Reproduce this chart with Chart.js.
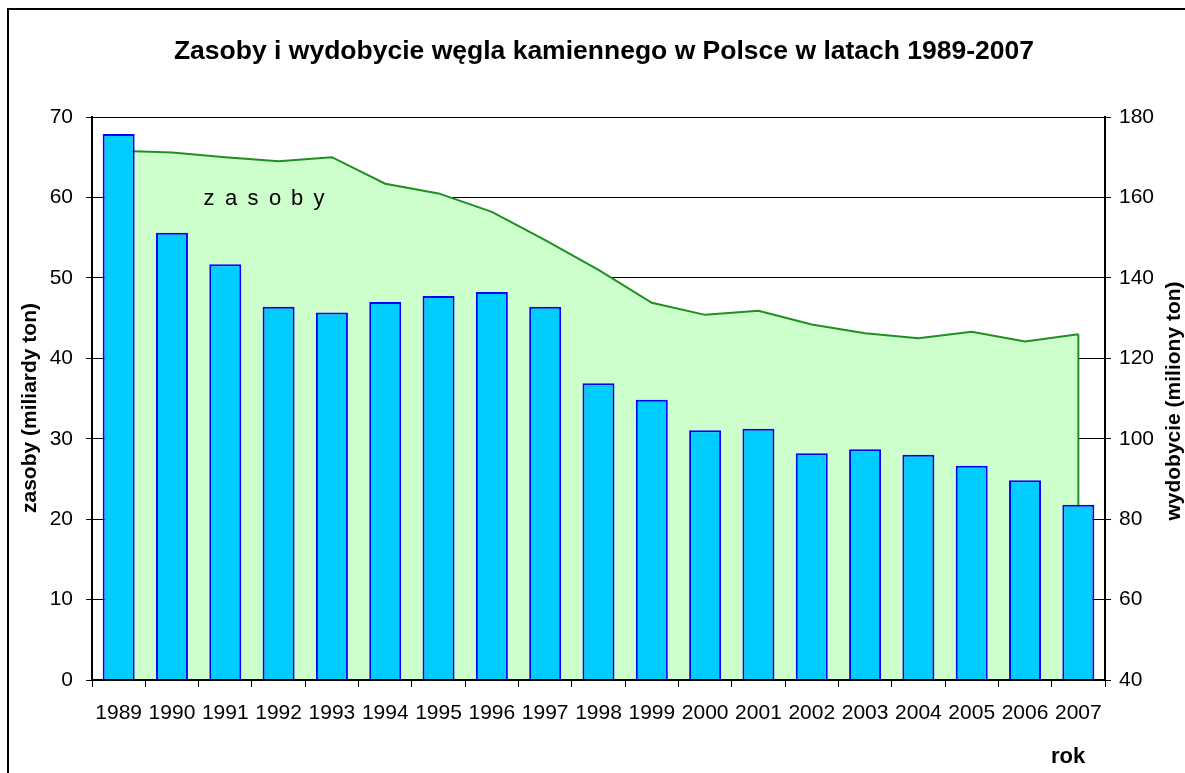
<!DOCTYPE html>
<html>
<head>
<meta charset="utf-8">
<script src="https://cdn.jsdelivr.net/npm/chart.js@4.4.1/dist/chart.umd.min.js"></script>
<style>
  body { margin: 0; background: #fff; }
  canvas { display: block; }
</style>
</head>
<body>
<canvas id="wykres" width="1185" height="773"></canvas>
<script>
// dane
const lata = ['1989','1990','1991','1992','1993','1994','1995','1996','1997','1998',
              '1999','2000','2001','2002','2003','2004','2005','2006','2007'];
// zasoby (miliardy ton) - lewa os
const zasoby = [65.8, 65.6, 65.0, 64.5, 65.0, 61.7, 60.5, 58.2, 54.7, 51.0,
                46.9, 45.4, 45.9, 44.2, 43.1, 42.5, 43.3, 42.1, 43.0];
// wydobycie (miliony ton) - prawa os
const wydobycie = [175.8, 151.2, 143.4, 132.8, 131.4, 134.0, 135.5, 136.5, 132.8, 113.8,
                   109.7, 102.1, 102.5, 96.4, 97.4, 96.0, 93.3, 89.7, 83.6];

const FONT = "'Liberation Sans', Arial, sans-serif";

// napisy, ramka i pionowa krawedz pola zasobow
const napisy = {
  id: 'napisy',
  afterDatasetDraw(chart, args) {
    if (args.index !== 0) return;
    const pts = args.meta.data;
    const last = pts[pts.length - 1];
    const ctx = chart.ctx;
    const y0 = chart.scales.y.getPixelForValue(0);
    ctx.save();
    ctx.strokeStyle = '#1f8f1f';
    ctx.lineWidth = 2;
    ctx.beginPath();
    ctx.moveTo(last.x, last.y);
    ctx.lineTo(last.x, y0);
    ctx.stroke();
    ctx.restore();
  },
  afterDraw(chart) {
    const ctx = chart.ctx;
    ctx.save();
    ctx.strokeStyle = '#000';
    ctx.lineWidth = 2;
    ctx.strokeRect(8, 9, 1200, 800);

    ctx.fillStyle = '#000';
    ctx.textAlign = 'center';
    ctx.textBaseline = 'alphabetic';
    ctx.font = 'bold 26.5px ' + FONT;
    ctx.fillText('Zasoby i wydobycie węgla kamiennego w Polsce w latach 1989-2007', 604, 59);

    ctx.font = 'bold 22px ' + FONT;
    ctx.fillText('rok', 1068, 763);

    ctx.font = 'bold 21px ' + FONT;
    ctx.save();
    ctx.translate(36, 408);
    ctx.rotate(-Math.PI / 2);
    ctx.fillText('zasoby (miliardy ton)', 0, 0);
    ctx.restore();
    ctx.save();
    ctx.translate(1180, 401);
    ctx.rotate(-Math.PI / 2);
    ctx.fillText('wydobycie (miliony ton)', 0, 0);
    ctx.restore();

    ctx.font = '22px ' + FONT;
    const litery = ['z', 'a', 's', 'o', 'b', 'y'];
    litery.forEach((l, i) => ctx.fillText(l, 209 + i * 22, 205));
    ctx.restore();
  }
};

new Chart(document.getElementById('wykres'), {
  data: {
    labels: lata,
    datasets: [
      {
        type: 'line',
        label: 'zasoby',
        data: zasoby,
        yAxisID: 'y',
        fill: 'origin',
        backgroundColor: '#CCFFCC',
        borderColor: '#1f8f1f',
        borderWidth: 2,
        pointRadius: 0,
        tension: 0,
        order: 1
      },
      {
        type: 'bar',
        label: 'wydobycie',
        data: wydobycie,
        yAxisID: 'y2',
        backgroundColor: '#00CCFF',
        borderColor: '#0000FF',
        borderWidth: 2,
        borderSkipped: 'bottom',
        categoryPercentage: 1,
        barPercentage: 0.6,
        order: 0
      }
    ]
  },
  options: {
    responsive: false,
    animation: false,
    layout: { padding: { top: 117, left: 0, right: 0, bottom: 0 } },
    plugins: {
      legend: { display: false },
      tooltip: { enabled: false },
      title: { display: false }
    },
    scales: {
      x: {
        offset: true,
        grid: { offset: true, drawOnChartArea: false, tickLength: 7, color: '#000' },
        border: { color: '#000', width: 2, z: 1 },
        ticks: { color: '#000', font: { family: FONT, size: 21 }, padding: 14, maxRotation: 0, autoSkip: false },
        afterFit(s) { s.height = 93; }
      },
      y: {
        position: 'left',
        min: 0,
        max: 70,
        grid: { color: '#000', lineWidth: 1, tickLength: 6 },
        border: { color: '#000', width: 2, z: 1 },
        ticks: { stepSize: 10, color: '#000', font: { family: FONT, size: 21 }, padding: 13 },
        afterFit(s) { s.width = 92; }
      },
      y2: {
        position: 'right',
        min: 40,
        max: 180,
        grid: { drawOnChartArea: false, color: '#000', tickLength: 6 },
        border: { color: '#000', width: 2, z: 1 },
        ticks: { stepSize: 20, color: '#000', font: { family: FONT, size: 21 }, padding: 8 },
        afterFit(s) { s.width = 80; }
      }
    }
  },
  plugins: [napisy]
});
</script>
</body>
</html>
